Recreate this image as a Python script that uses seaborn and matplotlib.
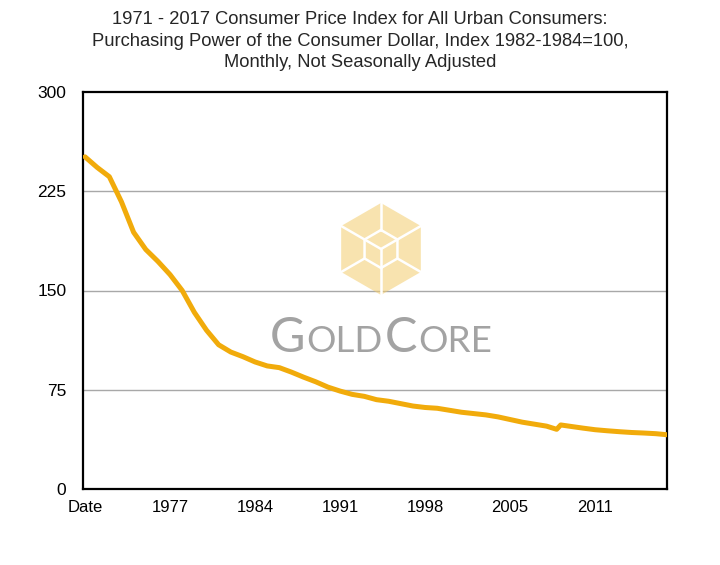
import numpy as np
import matplotlib
matplotlib.use("Agg")
import matplotlib.pyplot as plt
import seaborn as sns
from matplotlib.patches import RegularPolygon
from matplotlib.offsetbox import TextArea, HPacker, AnnotationBbox

# Purchasing power of the consumer dollar (month index from Jan 1971)
month = [0, 12, 24, 36, 48, 60, 72, 84, 96, 108, 120, 132, 144, 156, 168, 180,
         192, 204, 216, 228, 240, 252, 264, 276, 288, 300, 312, 324, 336, 348,
         360, 372, 384, 396, 408, 420, 432, 444, 456, 466, 470, 480, 492, 504,
         516, 528, 540, 552, 564, 575]
ppower = [251, 243, 236, 217, 194, 181, 172, 162, 150, 133.5, 120, 109, 103.5,
          100, 96, 93, 91.7, 88.3, 84.5, 81, 77, 74, 71.5, 70, 67.5, 66.3, 64.5,
          62.7, 61.6, 61, 59.5, 58, 57, 56, 54.5, 52.5, 50.5, 49, 47.5, 45.1,
          48.4, 47.3, 46, 44.8, 44, 43.3, 42.7, 42.3, 41.8, 41.0]

tick_pos = [0, 84, 168, 252, 336, 420, 504]
tick_labels = ["Date", "1977", "1984", "1991", "1998", "2005", "2011"]
y_ticks = [0, 75, 150, 225, 300]

title = ("1971 - 2017 Consumer Price Index for All Urban Consumers:\n"
         "Purchasing Power of the Consumer Dollar, Index 1982-1984=100,\n"
         "Monthly, Not Seasonally Adjusted")

sns.set_theme(style="white")
plt.rcParams['font.family'] = ['Liberation Sans', 'DejaVu Sans']

W, H = 720, 565
fig = plt.figure(figsize=(7.2, 5.65), dpi=100)
ax = fig.add_axes([83 / W, 1 - 489 / H, (667 - 83) / W, (489 - 92) / H])

for v in y_ticks[1:-1]:
    ax.axhline(v, color="#a8a8a8", lw=1.0, zorder=1)

sns.lineplot(x=month, y=ppower, ax=ax, color="#F1AB0B", linewidth=3.6,
             solid_capstyle="round", solid_joinstyle="round", zorder=3)

ax.set_xlim(-2, 575)
ax.set_ylim(0, 300)
ax.set_xticks(tick_pos)
ax.set_xticklabels(tick_labels)
ax.set_yticks(y_ticks)
ax.tick_params(axis="x", labelsize=12, length=0, colors="black", pad=8)
ax.tick_params(axis="y", labelsize=12.5, length=0, colors="black", pad=12)
ax.set_xlabel("")
ax.set_ylabel("")
for s in ax.spines.values():
    s.set_visible(True)
    s.set_color("black")
    s.set_linewidth(1.6)

fig.text(0.5, 1 - 41 / H, title, ha="center", va="center", fontsize=13.2,
         linespacing=1.33)

# GoldCore watermark
wm = fig.add_axes([0, 0, 1, 1], facecolor="none")
wm.set_xlim(0, W)
wm.set_ylim(H, 0)
wm.axis("off")
cx, cy, R, r = 381, 249, 46, 19
wm.add_patch(RegularPolygon((cx, cy), 6, radius=R, orientation=0,
                            facecolor="#F3CD6E", edgecolor="none", alpha=0.55))
ang = np.deg2rad(np.arange(90, 450, 60))
ox, oy = cx + R * np.cos(ang), cy - R * np.sin(ang)
ix, iy = cx + r * np.cos(ang), cy - r * np.sin(ang)
lw_w = 1.8
for k in range(6):
    wm.plot([ix[k], ox[k]], [iy[k], oy[k]], color="white", lw=lw_w)
wm.plot(np.append(ix, ix[0]), np.append(iy, iy[0]), color="white", lw=lw_w)
for a in [30, 150, 270]:
    t = np.deg2rad(a)
    wm.plot([cx, cx + r * np.cos(t)], [cy, cy - r * np.sin(t)], color="white", lw=lw_w)

big = dict(fontsize=35, color="#A3A3A3", family="Lato")
small = dict(fontsize=26.5, color="#A3A3A3", family="Lato")
logo = HPacker(children=[TextArea("G", textprops=big), TextArea("OLD", textprops=small),
                         TextArea("C", textprops=big), TextArea("ORE", textprops=small)],
               align="baseline", pad=0, sep=1)
fig.add_artist(AnnotationBbox(logo, (381, H - 338), xycoords="figure pixels",
                              frameon=False, box_alignment=(0.5, 0.5)))

fig.savefig("out.png", dpi=100)
